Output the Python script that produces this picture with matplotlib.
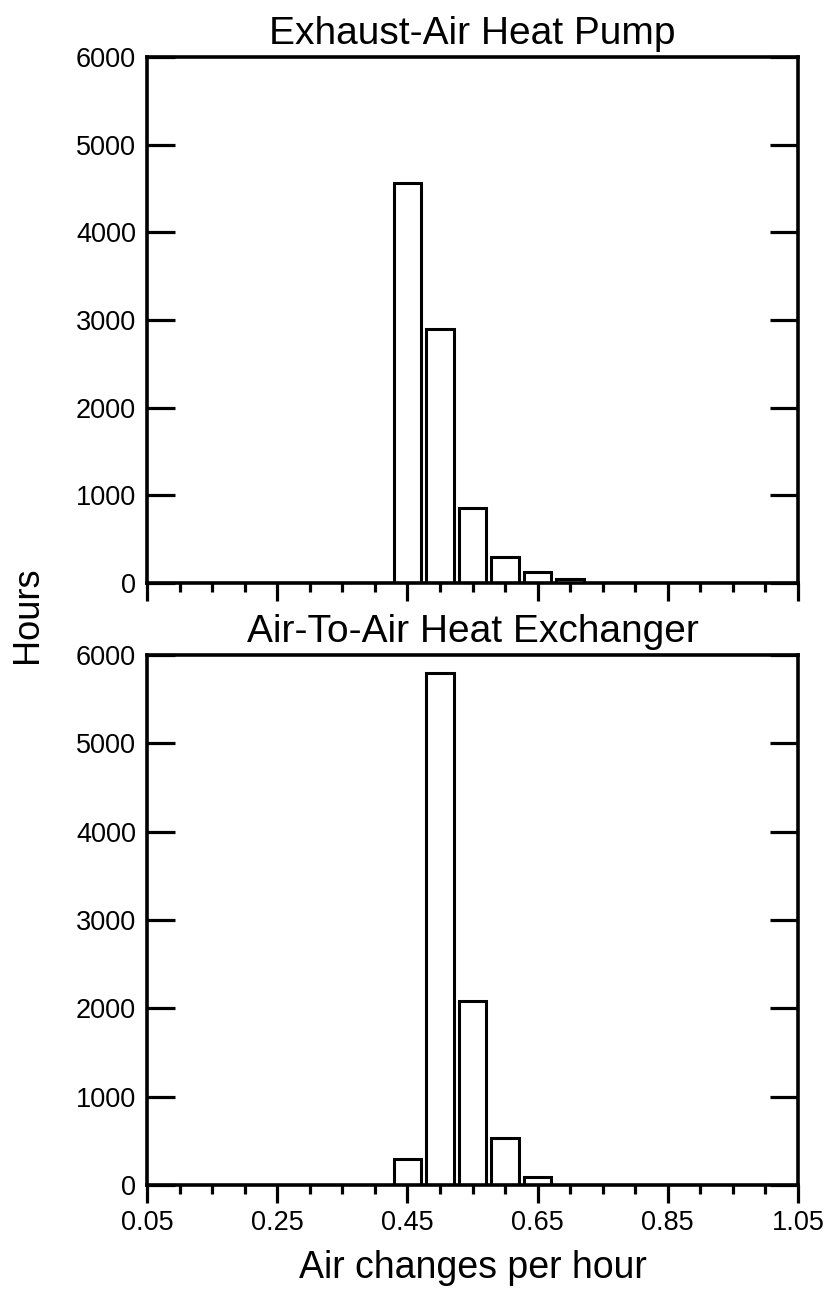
import matplotlib
matplotlib.use("Agg")
import matplotlib.pyplot as plt
import numpy as np

plt.rcParams['font.family'] = ['Liberation Sans', 'DejaVu Sans']

# Data
bin_centers_top = [0.45, 0.50, 0.55, 0.60, 0.65, 0.70]
hours_top = [4560, 2900, 850, 295, 130, 50]
bin_centers_bottom = [0.45, 0.50, 0.55, 0.60, 0.65]
hours_bottom = [290, 5800, 2080, 530, 95]
titles = ["Exhaust-Air Heat Pump", "Air-To-Air Heat Exchanger"]
xtick_major = [0.05, 0.25, 0.45, 0.65, 0.85, 1.05]
xtick_minor = [round(0.05 + 0.05 * i, 2) for i in range(21)]
ytick_vals = [0, 1000, 2000, 3000, 4000, 5000, 6000]

fig = plt.figure(figsize=(8.26, 13), dpi=100)
L, R = 147 / 826, 798 / 826
ax1 = fig.add_axes([L, 1 - 583 / 1300, R - L, (583 - 57) / 1300])
ax2 = fig.add_axes([L, 1 - 1185 / 1300, R - L, (1185 - 655) / 1300])

bar_w = 0.042
for ax, xs, ys, title in [(ax1, bin_centers_top, hours_top, titles[0]),
                          (ax2, bin_centers_bottom, hours_bottom, titles[1])]:
    ax.bar(xs, ys, width=bar_w, facecolor='white', edgecolor='black',
           linewidth=2.2, zorder=3)
    ax.set_xlim(0.05, 1.05)
    ax.set_ylim(0, 6000)
    for sp in ax.spines.values():
        sp.set_linewidth(2.6)
        sp.set_zorder(4)
    ax.set_yticks(ytick_vals)
    ax.set_yticklabels([str(v) for v in ytick_vals])
    ax.tick_params(axis='y', which='major', direction='in', length=20,
                   width=2.3, left=True, right=True, labelsize=19.5, pad=8)
    ax.set_xticks(xtick_major)
    ax.set_xticks(xtick_minor, minor=True)
    ax.tick_params(axis='x', which='major', direction='out', length=13,
                   width=2.3, labelsize=19.5, pad=5)
    ax.tick_params(axis='x', which='minor', direction='out', length=6.5,
                   width=2.3)
    ax.set_title(title, fontsize=28, pad=9)

ax1.set_xticklabels([])
ax2.set_xticklabels([f"{v:.2f}" for v in xtick_major])
ax2.set_xlabel("Air changes per hour", fontsize=27, labelpad=10)

fig.text(27 / 826, 1 - 615 / 1300, "Hours", rotation=90, fontsize=26,
         ha='center', va='center')

fig.savefig("out.png", dpi=100)
